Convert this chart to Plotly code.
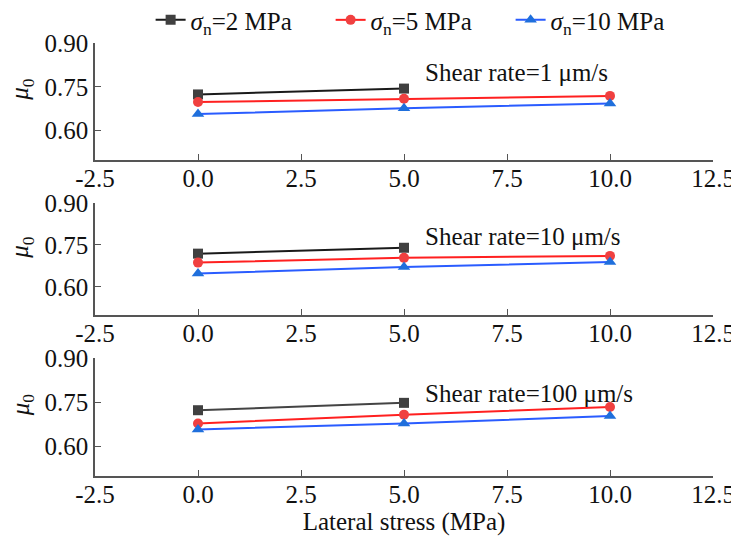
import plotly.graph_objects as go
from plotly.subplots import make_subplots

# ---------------- data ----------------
lateral_stress = [0.0, 5.0, 10.0]
series_names = ["<i>σ</i><sub>n</sub>=2 MPa", "<i>σ</i><sub>n</sub>=5 MPa", "<i>σ</i><sub>n</sub>=10 MPa"]
panel_labels = ["Shear rate=1 μm/s", "Shear rate=10 μm/s", "Shear rate=100 μm/s"]

# friction coefficient mu0 per panel (shear rate) and per normal stress
mu_rate1_sn2 = [0.724, 0.744]
mu_rate1_sn5 = [0.698, 0.709, 0.719]
mu_rate1_sn10 = [0.657, 0.677, 0.693]

mu_rate10_sn2 = [0.719, 0.740]
mu_rate10_sn5 = [0.687, 0.704, 0.711]
mu_rate10_sn10 = [0.648, 0.671, 0.689]

mu_rate100_sn2 = [0.723, 0.748]
mu_rate100_sn5 = [0.678, 0.708, 0.734]
mu_rate100_sn10 = [0.658, 0.678, 0.703]

xtick_vals = [-2.5, 0.0, 2.5, 5.0, 7.5, 10.0, 12.5]
xtick_text = ["-2.5", "0.0", "2.5", "5.0", "7.5", "10.0", "12.5"]
ytick_vals = [0.60, 0.75, 0.90]
ytick_text = ["0.60", "0.75", "0.90"]

panels = [
    [mu_rate1_sn2, mu_rate1_sn5, mu_rate1_sn10],
    [mu_rate10_sn2, mu_rate10_sn5, mu_rate10_sn10],
    [mu_rate100_sn2, mu_rate100_sn5, mu_rate100_sn10],
]

# ---------------- styles ----------------
line_colors = ["#1a1a1a", "#ff2020", "#2a5cff"]
marker_colors = ["#404040", "#f04040", "#1f6fdc"]
symbols = ["square", "circle", "triangle-up"]
FONT = "Liberation Serif"
FS = 25
TXT = "#111111"

fig = make_subplots(rows=3, cols=1)

for r, panel in enumerate(panels, start=1):
    for i, vals in enumerate(panel):
        fig.add_trace(
            go.Scatter(
                x=lateral_stress[: len(vals)],
                y=vals,
                mode="lines+markers",
                name=series_names[i],
                legendgroup=str(i),
                showlegend=(r == 1),
                line=dict(color=line_colors[i] if r < 3 or i != 0 else "#444444", width=2),
                marker=dict(symbol=symbols[i], size=10 if i != 2 else 11, color=marker_colors[i]),
                cliponaxis=False,
            ),
            row=r,
            col=1,
        )

# domains (paper coords) measured from reference
domains = [[0.73, 1.0], [0.372, 0.6305], [0.0, 0.2725]]
label_y = [0.80, 0.78, 0.78]

for r in range(1, 4):
    ya = "yaxis" if r == 1 else f"yaxis{r}"
    fig.layout[ya].domain = domains[r - 1]
    fig.update_xaxes(
        range=[-2.5, 12.5],
        tickvals=xtick_vals,
        ticktext=xtick_text,
        ticks="inside",
        ticklen=6,
        tickcolor="#555555",
        showline=True,
        linecolor="#555555",
        linewidth=1.5,
        showgrid=False,
        zeroline=False,
        ticklabeloverflow="allow",
        ticklabelstandoff=-5,
        tickfont=dict(family=FONT, size=FS, color=TXT),
        row=r,
        col=1,
    )
    fig.update_yaxes(
        range=[0.5, 0.9],
        tickvals=ytick_vals,
        ticktext=ytick_text,
        ticks="inside",
        ticklen=6,
        tickcolor="#555555",
        showline=True,
        linecolor="#555555",
        linewidth=1.5,
        showgrid=False,
        zeroline=False,
        tickfont=dict(family=FONT, size=FS, color=TXT),
        row=r,
        col=1,
    )
    xref = "x" if r == 1 else f"x{r}"
    yref = "y" if r == 1 else f"y{r}"
    fig.add_annotation(
        x=5.45, y=label_y[r - 1], xref=xref, yref=yref,
        text=panel_labels[r - 1], showarrow=False, xanchor="left", yanchor="middle",
        font=dict(family=FONT, size=FS, color=TXT),
    )
    fig.add_annotation(
        x=-0.118, y=0.74, xref="paper", yref=yref,
        text="<i>μ</i><sub>0</sub>", showarrow=False, textangle=-90,
        xanchor="center", yanchor="middle",
        font=dict(family=FONT, size=FS, color=TXT),
    )

fig.update_xaxes(title=dict(text="Lateral stress (MPa)", font=dict(family=FONT, size=FS, color=TXT), standoff=4), row=3, col=1)

fig.update_layout(
    width=731,
    height=543,
    margin=dict(l=95, r=18, t=43, b=67, autoexpand=False),
    paper_bgcolor="white",
    plot_bgcolor="white",
    font=dict(family=FONT, size=FS, color=TXT),
    legend=dict(
        orientation="h",
        x=0.09,
        y=0.963,
        xref="paper",
        yref="container",
        xanchor="left",
        yanchor="middle",
        font=dict(family=FONT, size=FS, color=TXT),
        bgcolor="rgba(0,0,0,0)",
        itemwidth=30,
        entrywidth=135,
        tracegroupgap=0,
    ),
    showlegend=True,
)

fig.write_html("out.html")
